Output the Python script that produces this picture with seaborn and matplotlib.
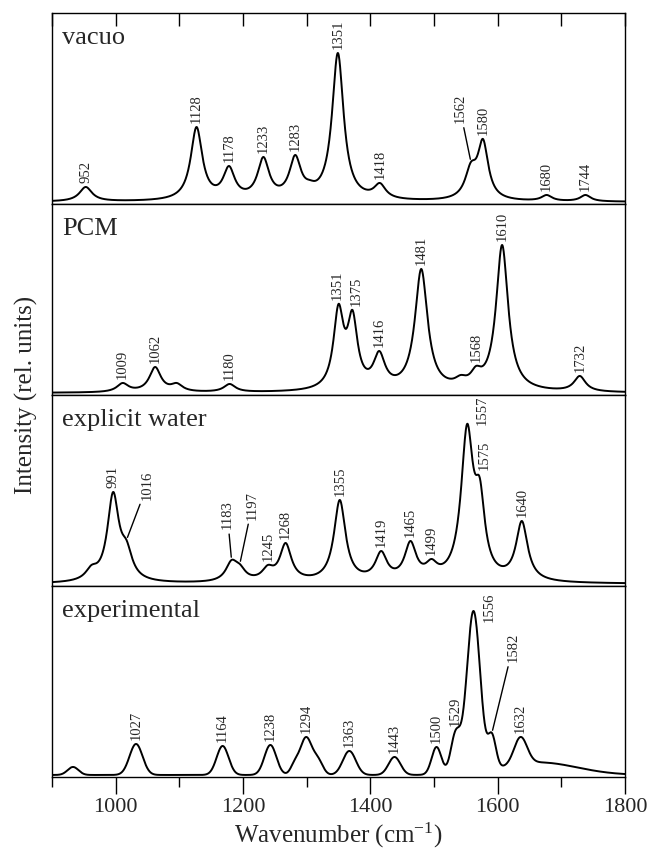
import numpy as np
import pandas as pd
import seaborn as sns
import matplotlib
matplotlib.use('Agg')
from matplotlib import pyplot as plt
from matplotlib.ticker import MultipleLocator

# peak centres (cm-1), heights (rel. units) and widths (cm-1)
vac_pos = [953, 1127, 1178, 1232, 1282, 1305, 1349, 1415, 1558, 1577, 1677, 1738]
vac_height = [15, 75, 36, 45, 47, 22, 149, 19, 40, 63, 7, 7]
vac_width = [24, 22, 22, 22, 22, 20, 22, 22, 22, 20, 20, 20]
vac_label = ['952', '1128', '1178', '1233', '1283', '', '1351', '1418', '1562', '1580', '1680', '1744']

pcm_pos = [1011, 1062, 1096, 1179, 1350, 1372, 1414, 1480, 1542, 1566, 1607, 1729]
pcm_height = [10, 26, 10, 9, 89, 83, 42, 124, 18, 27, 148, 17]
pcm_width = [22, 22, 22, 22, 19, 19, 22, 24, 22, 20, 23, 22]
pcm_label = ['1009', '1062', '', '1180', '1351', '1375', '1416', '1481', '', '1568', '1610', '1732']

wat_pos = [962, 996, 1017, 1066, 1182, 1195, 1239, 1267, 1299, 1352, 1417, 1463, 1496, 1552, 1572, 1638]
wat_height = [19, 92, 44, 4, 24, 20, 19, 41, 9, 84, 33, 43, 25, 160, 106, 63]
wat_width = [22, 22, 22, 22, 22, 22, 22, 22, 22, 22, 22, 22, 22, 23, 19, 22]
wat_label = ['', '991', '1016', '', '1183', '1197', '1245', '1268', '', '1355', '1419', '1465', '1499',
             '1557', '1575', '1640']

exp_pos = [933, 1032, 1168, 1243, 1281, 1299, 1318, 1367, 1438, 1504, 1534, 1562, 1591, 1636, 1665]
exp_height = [8, 31, 29, 30, 15, 38, 18, 24, 18, 28, 45, 164, 42, 38, 13]
exp_width = [20, 24, 22, 22, 15, 22, 18, 24, 22, 18, 18, 25, 15, 24, 140]
exp_label = ['', '1027', '1164', '1238', '', '1294', '', '1363', '1443', '1500', '1529', '1556', '1582',
             '1632', '']

panels = [('vacuo', vac_pos, vac_height, vac_width, vac_label, 'lorentz'),
          ('PCM', pcm_pos, pcm_height, pcm_width, pcm_label, 'lorentz'),
          ('explicit water', wat_pos, wat_height, wat_width, wat_label, 'lorentz'),
          ('experimental', exp_pos, exp_height, exp_width, exp_label, 'gauss')]

# label offsets in points (text bottom-centre relative to the peak), with leader line flag
special = {('vacuo', '1562'): (-8, 28, True),
           ('PCM', '1351'): (-1, 3, False), ('PCM', '1375'): (3, 3, False),
           ('explicit water', '1016'): (15, 29, True), ('explicit water', '1183'): (-3, 22, True),
           ('explicit water', '1197'): (9, 32, True), ('explicit water', '1557'): (11, -1, False),
           ('explicit water', '1575'): (3, 6, False),
           ('experimental', '1582'): (15, 51, True), ('experimental', '1556'): (11, -8, False)}


def band(x, c, w, shape):
    if shape == 'gauss':
        return np.exp(-4 * np.log(2) * (x - c) ** 2 / w ** 2)
    return 1.0 / (1.0 + (2 * (x - c) / w) ** 2)


def spectrum(x, pos, height, width, shape):
    pos = np.array(pos, float)
    width = np.array(width, float)
    # amplitudes so that the summed curve passes through the read heights
    M = np.array([[band(p, c, w, shape) for c, w in zip(pos, width)] for p in pos])
    amp = np.clip(np.linalg.solve(M, np.array(height, float)), 0, None)
    return sum(a * band(x, c, w, shape) for a, c, w in zip(amp, pos, width))


sns.set_style('ticks')
plt.rcParams['font.family'] = ['Liberation Serif', 'DejaVu Serif']
plt.rcParams['axes.linewidth'] = 1.0

fig, axes = plt.subplots(4, 1, figsize=(6.5, 8.59), dpi=100, sharex=True)
fig.subplots_adjust(left=0.08, right=0.9615, top=0.9849, bottom=0.0955, hspace=0)

x = np.linspace(900, 1800, 1801)
for ax, (name, pos, height, width, labels, shape) in zip(axes, panels):
    y = spectrum(x, pos, height, width, shape)
    df = pd.DataFrame({'wn': x, 'I': y})
    sns.lineplot(data=df, x='wn', y='I', ax=ax, color='black', lw=1.4)
    ax.set_ylim(-2, 189)
    ax.set_xlim(900, 1800)
    ax.set_ylabel('')
    ax.set_xlabel('')
    ax.set_yticks([])
    for sp in ax.spines.values():
        sp.set_visible(True)
        sp.set_color('black')
    ax.text(0.017, 0.84, name, transform=ax.transAxes, fontsize=19, va='baseline')
    for p, lab in zip(pos, labels):
        if not lab:
            continue
        yp = np.interp(p, x, y)
        dx, dy, line = special.get((name, lab), (0, 3, False))
        props = dict(arrowstyle='-', lw=1.0, color='black', shrinkA=1, shrinkB=2) if line else None
        ax.annotate(lab, xy=(p, yp), xytext=(dx, dy), textcoords='offset points',
                    rotation=90, ha='center', va='bottom', fontsize=10.5, arrowprops=props)
    ax.tick_params(which='both', left=False, right=False, top=False, bottom=False,
                   labelbottom=False)

axes[0].xaxis.set_major_locator(MultipleLocator(200))
axes[0].xaxis.set_minor_locator(MultipleLocator(100))
axes[0].tick_params(which='both', top=True, direction='in', length=9.5, width=1, color='black')
axes[-1].tick_params(which='major', bottom=True, labelbottom=True, direction='out', length=12,
                     width=1, labelsize=16, pad=3, color='black')
axes[-1].tick_params(which='minor', bottom=True, direction='out', length=7, width=1, color='black')
axes[-1].set_xlabel('Wavenumber (cm$\\mathregular{^{-1}}$)', fontsize=18, labelpad=3)
fig.text(0.04, 0.54, 'Intensity (rel. units)', rotation=90, ha='center', va='center', fontsize=18)

fig.savefig('out.png', dpi=100)
